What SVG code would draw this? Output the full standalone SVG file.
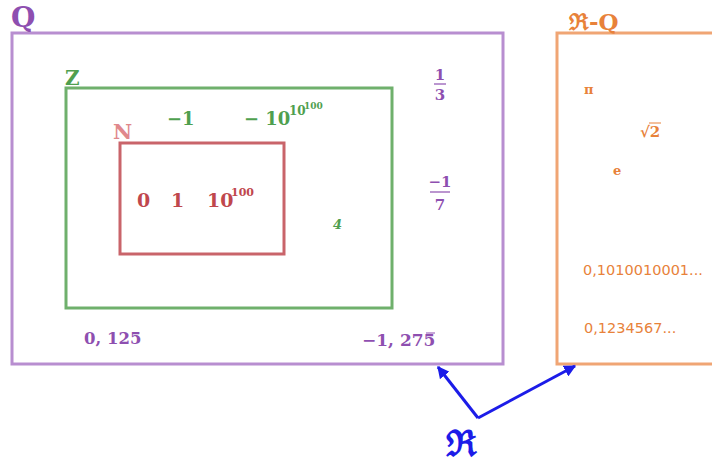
<svg xmlns="http://www.w3.org/2000/svg" width="712" height="466" viewBox="0 0 712 466">
<style>
.box{fill:none;stroke-width:3}
.m{font-family:"DejaVu Serif","Liberation Serif",serif;font-weight:bold}
.s{font-family:"DejaVu Sans","Liberation Sans",sans-serif}
.pq{fill:#8e4fb0}
.gz{fill:#4f9f4f}
.rn{fill:#c0474d}
.or{fill:#e8823a}
</style>
<defs>
<marker id="ah" viewBox="0 0 10 10" refX="9" refY="5" markerWidth="4" markerHeight="4" orient="auto" markerUnits="strokeWidth">
<path d="M0,0 L10,5 L0,10 z" fill="#1c1ce8"/>
</marker>
</defs>
<rect width="712" height="466" fill="#fff"/>
<g id="Q">
<rect class="box" x="12" y="33" width="491" height="331" stroke="#b88ed0"/>
<text class="m pq" x="11" y="27" font-size="28">Q</text>
<text class="m pq" x="440" y="80" font-size="15" text-anchor="middle">1</text>
<line x1="434" y1="84" x2="446" y2="84" stroke="#8e4fb0" stroke-width="1.2"/>
<text class="m pq" x="440" y="100" font-size="15" text-anchor="middle">3</text>
<text class="m pq" x="440" y="187" font-size="15" text-anchor="middle">−1</text>
<line x1="430" y1="192" x2="450" y2="192" stroke="#8e4fb0" stroke-width="1.2"/>
<text class="m pq" x="440" y="210" font-size="15" text-anchor="middle">7</text>
<text class="m pq" x="84" y="344" font-size="16.5">0, 125</text>
<text class="m pq" x="362" y="346" font-size="17">−1, 275</text>
<line x1="426" y1="333" x2="435" y2="333" stroke="#8e4fb0" stroke-width="1"/>
</g>
<g id="Z">
<rect class="box" x="66" y="88" width="326" height="220" stroke="#6fb06c"/>
<text class="m gz" x="65" y="85" font-size="20">Z</text>
<text class="m gz" x="167" y="125" font-size="18">−1</text>
<text class="m gz" x="244" y="125" font-size="18">− 10</text>
<text class="m gz" x="289" y="115" font-size="12">10</text>
<text class="m gz" x="304" y="109" font-size="9">100</text>
<text class="m gz" x="333" y="229" font-size="13" font-style="italic">4</text>
</g>
<g id="N">
<rect class="box" x="120" y="143" width="164" height="111" stroke="#c9646a"/>
<text class="m" x="113" y="139" font-size="21" fill="#e0888c">N</text>
<text class="m rn" x="137" y="207" font-size="19">0</text>
<text class="m rn" x="171" y="207" font-size="19">1</text>
<text class="m rn" x="207" y="207" font-size="19">10</text>
<text class="m rn" x="231" y="196" font-size="11">100</text>
</g>
<g id="RQ">
<rect class="box" x="557" y="33" width="170" height="331" stroke="#f0a574"/>
<text class="m or" x="569" y="30" font-size="23">ℜ-Q</text>
<text class="m or" x="584" y="94" font-size="13">π</text>
<text class="m or" x="640" y="137" font-size="15">√2</text>
<line x1="649" y1="123" x2="661" y2="123" stroke="#e8823a" stroke-width="1"/>
<text class="m or" x="613" y="175" font-size="13">e</text>
<text class="s or" x="583" y="275" font-size="14.5">0,1010010001...</text>
<text class="s or" x="584" y="333" font-size="14.5">0,1234567...</text>
</g>
<g id="R">
<text class="m" x="446" y="456" font-size="36" fill="#1c1ce8">ℜ</text>
</g>
<g id="connectors" stroke="#1c1ce8" stroke-width="3" fill="none">
<line x1="478" y1="418" x2="438" y2="367" marker-end="url(#ah)"/>
<line x1="478" y1="418" x2="575" y2="366" marker-end="url(#ah)"/>
</g>
</svg>
